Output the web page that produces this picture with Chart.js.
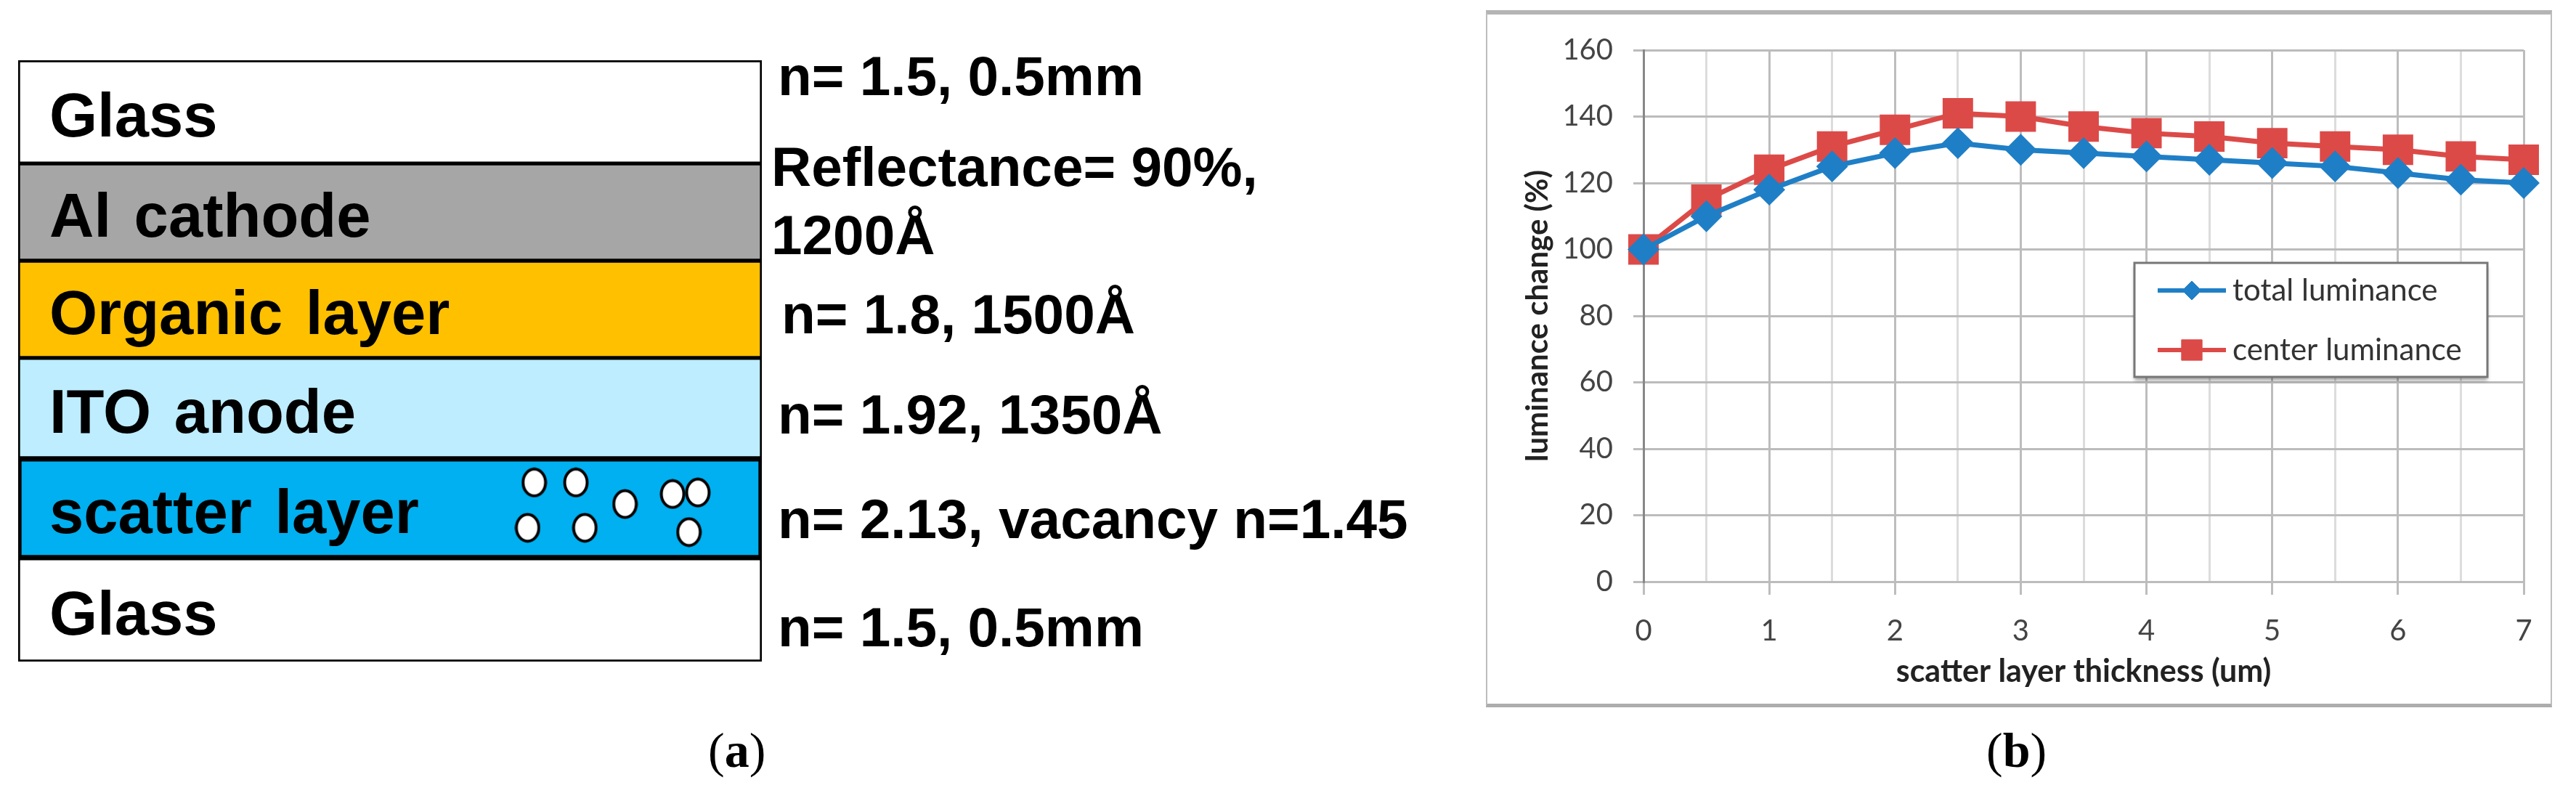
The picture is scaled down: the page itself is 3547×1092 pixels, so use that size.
<!DOCTYPE html>
<html>
<head>
<meta charset="utf-8">
<title>Scatter layer luminance</title>
<script src="https://cdn.jsdelivr.net/npm/chart.js@4"></script>
<style>
    html, body { margin: 0; padding: 0; background: #fff; }
    body { width: 3547px; height: 1092px; position: relative; overflow: hidden; }
    canvas { position: absolute; }
    #layers { left: 20px; top: 78px; }
    #frame { position: absolute; left: 2046px; top: 14px; width: 1468px; height: 960px; box-sizing: border-box;
             border: 2px solid #bdbdbd; border-top: 6px solid #b4b4b4; border-bottom: 5px solid #adadad; }
    #luminance { left: 2048px; top: 17px; }
    .note { position: absolute; white-space: pre; font: bold 76.5px "Liberation Sans", sans-serif; color: #000; }
    .caption { position: absolute; white-space: pre; font: 68px "Liberation Serif", serif; color: #000; }
    .caption b { font-weight: bold; }
</style>
</head>
<body>
<canvas id="layers" width="1034" height="838"></canvas>
<div id="frame"></div>
<canvas id="luminance" width="1465" height="956"></canvas>
<div class="caption" style="left:975px;top:994px">(<b>a</b>)</div>
<div class="caption" style="left:2735px;top:994px">(<b>b</b>)</div>

<script>
// panel (a): layer stack, top to bottom
var layerNames = ["Glass", "Al cathode", "Organic layer", "ITO anode", "scatter layer", "Glass"];
var layerThickness = [1.03, 0.97, 0.97, 1.0, 1.0, 1.03];   // drawn height, schematic units
var layerColors = ["#ffffff", "#a6a6a6", "#ffc000", "#bdedff", "#00b0f0", "#ffffff"];

// vacancies in the scatter layer
var vacancyX = [0.694, 0.750, 0.816, 0.880, 0.914, 0.685, 0.762, 0.902];
var vacancyY = [4.213, 4.213, 4.428, 4.328, 4.313, 4.665, 4.665, 4.708];

// notes right of the stack: text, left edge, baseline
var noteTexts = ["n= 1.5, 0.5mm", "Reflectance= 90%,", "1200Å", "n= 1.8, 1500Å", "n= 1.92, 1350Å", "n= 2.13, vacancy n=1.45", "n= 1.5, 0.5mm"];
var noteLeft = [1071, 1062, 1062, 1076, 1071, 1071, 1071];
var noteBaseline = [130, 255, 349, 458, 596, 740, 889];

// panel (b)
var thickness = [0, 0.5, 1, 1.5, 2, 2.5, 3, 3.5, 4, 4.5, 5, 5.5, 6, 6.5, 7];
var totalLuminance = [100, 110, 118, 125, 129, 132, 130, 129, 128, 127, 126, 125, 123, 121, 120];
var centerLuminance = [100, 115, 124, 131, 136, 141, 140, 137, 135, 134, 132, 131, 130, 128, 127];

Chart.defaults.animation = false;
Chart.defaults.responsive = false;
Chart.defaults.plugins.tooltip.enabled = false;

// notes as plain text
noteTexts.forEach(function(text, i) {
    var div = document.createElement("div");
    div.className = "note";
    div.textContent = text;
    div.style.left = noteLeft[i] + "px";
    div.style.top = (noteBaseline[i] - 69) + "px";   // 69 = font ascent
    document.body.appendChild(div);
});

// white ellipse with black rim, used as point style for the vacancies
function makeVacancy() {
    var c = document.createElement("canvas");
    c.width = 36;
    c.height = 42;
    var ctx = c.getContext("2d");
    ctx.beginPath();
    ctx.ellipse(18, 21, 15.5, 18.5, 0, 0, 2 * Math.PI);
    ctx.fillStyle = "#fff";
    ctx.fill();
    ctx.lineWidth = 4;
    ctx.strokeStyle = "#000";
    ctx.stroke();
    return c;
}

var layerLabels = {
    id: "layerLabels",
    afterDatasetsDraw: function(chart) {
        var ctx = chart.ctx;
        ctx.save();
        ctx.font = 'bold 85px "Liberation Sans", sans-serif';
        ctx.fillStyle = "#000";
        ctx.textBaseline = "alphabetic";
        ctx.wordSpacing = "8px";
        layerNames.forEach(function(name, i) {
            var bar = chart.getDatasetMeta(i).data[0];
            ctx.fillText(name, chart.chartArea.left + 43, (bar.y + bar.base) / 2 + 34);
        });
        ctx.restore();
    }
};

var layerSets = layerNames.map(function(name, i) {
    return {
        type: "bar",
        label: name,
        data: [layerThickness[i]],
        backgroundColor: layerColors[i],
        borderColor: "#000",
        borderWidth: name == "scatter layer" ? 5 : 3,
        borderSkipped: false,
        grouped: false,     // scatter set has its own x axis, grouped would halve the bar width
        barPercentage: 1,
        categoryPercentage: 1,
        order: 1
    };
});
layerSets.push({
    type: "scatter",
    label: "vacancy",
    data: vacancyX.map(function(x, i) { return { x: x, y: vacancyY[i] }; }),
    xAxisID: "xVac",
    yAxisID: "yVac",
    pointStyle: makeVacancy(),
    order: 0
});

new Chart(document.getElementById("layers"), {
    type: "bar",
    data: { labels: ["stack"], datasets: layerSets },
    options: {
        plugins: { legend: { display: false } },
        scales: {
            x: { display: false, stacked: true },
            y: { display: false, stacked: true, reverse: true, min: 0, max: 6 },
            xVac: { type: "linear", display: false, offset: false, min: 0, max: 1 },
            yVac: { type: "linear", display: false, offset: false, reverse: true, min: 0, max: 6 }
        }
    },
    plugins: [layerLabels]
});

// legend box sits inside the plot, so it is drawn here
var boxLegend = {
    id: "boxLegend",
    afterDatasetsDraw: function(chart) {
        var ctx = chart.ctx;
        var rows = [383, 465];
        var sizes = [13, 20];
        ctx.save();
        ctx.shadowColor = "rgba(0,0,0,0.35)";
        ctx.shadowBlur = 5;
        ctx.shadowOffsetY = 5;
        ctx.fillStyle = "#fff";
        ctx.fillRect(891, 345, 486, 157);
        ctx.restore();
        ctx.save();
        ctx.strokeStyle = "#777";
        ctx.lineWidth = 3;
        ctx.strokeRect(891, 345, 486, 157);
        chart.data.datasets.forEach(function(ds, i) {
            ctx.strokeStyle = ds.borderColor;
            ctx.lineWidth = 6;
            ctx.beginPath();
            ctx.moveTo(923, rows[i]);
            ctx.lineTo(1017, rows[i]);
            ctx.stroke();
            ctx.fillStyle = ds.backgroundColor;
            ctx.strokeStyle = ds.backgroundColor;
            ctx.lineWidth = 1;
            Chart.helpers.drawPoint(ctx, { pointStyle: ds.pointStyle, radius: sizes[i], rotation: 0, borderWidth: 1 }, 970, rows[i]);
            ctx.fillStyle = "#333";
            ctx.font = '42px Lato, sans-serif';
            ctx.textBaseline = "middle";
            ctx.fillText(ds.label, 1026, rows[i]);
        });
        ctx.restore();
    }
};

function toPoints(values) {
    return values.map(function(v, i) { return { x: thickness[i], y: v }; });
}

new Chart(document.getElementById("luminance"), {
    type: "line",
    data: {
        datasets: [{
            label: "total luminance",
            data: toPoints(totalLuminance),
            borderColor: "#1f7fc6",
            backgroundColor: "#1f7fc6",
            borderWidth: 7,
            pointStyle: "rectRot",
            pointRadius: 17,
            clip: false,
            tension: 0
        }, {
            label: "center luminance",
            data: toPoints(centerLuminance),
            borderColor: "#dc4a48",
            backgroundColor: "#dc4a48",
            borderWidth: 7,
            pointStyle: "rect",
            pointRadius: 24.7,
            clip: false,
            tension: 0
        }]
    },
    options: {
        layout: { padding: { top: 50, right: 38 } },
        plugins: { legend: { display: false } },
        scales: {
            x: {
                type: "linear",
                min: 0,
                max: 7,
                afterBuildTicks: function(axis) {
                    axis.ticks = thickness.map(function(v) { return { value: v }; });
                },
                afterFit: function(axis) { axis.height = 172; },
                ticks: {
                    autoSkip: false,
                    maxRotation: 0,
                    padding: 26,
                    color: "#444",
                    font: { family: "Lato", size: 40 },
                    callback: function(v) { return Number.isInteger(v) ? v : ""; }
                },
                grid: {
                    tickLength: 18,
                    lineWidth: 3,
                    color: function(c) { return c.tick && Number.isInteger(c.tick.value) ? "#bdbdbd" : "#dcdcdc"; },
                    tickColor: function(c) { return c.tick && Number.isInteger(c.tick.value) ? "#bdbdbd" : "rgba(0,0,0,0)"; }
                },
                border: { display: false },
                title: {
                    display: true,
                    text: "scatter layer thickness (um)",
                    color: "#222",
                    font: { family: "Lato", size: 43, weight: "bold" },
                    padding: { top: 0, bottom: 22 }
                }
            },
            y: {
                min: 0,
                max: 160,
                afterFit: function(axis) { axis.width = 215; },
                ticks: {
                    stepSize: 20,
                    padding: 28,
                    color: "#444",
                    font: { family: "Lato", size: 40 }
                },
                grid: { tickLength: 14, lineWidth: 3, color: "#bcbcbc" },
                border: { color: "#888", width: 3 },
                title: {
                    display: true,
                    text: "luminance change (%)",
                    color: "#222",
                    font: { family: "Lato", size: 42, weight: "bold" },
                    padding: { top: 44, bottom: 0 }
                }
            }
        }
    },
    plugins: [boxLegend]
});
</script>
</body>
</html>
